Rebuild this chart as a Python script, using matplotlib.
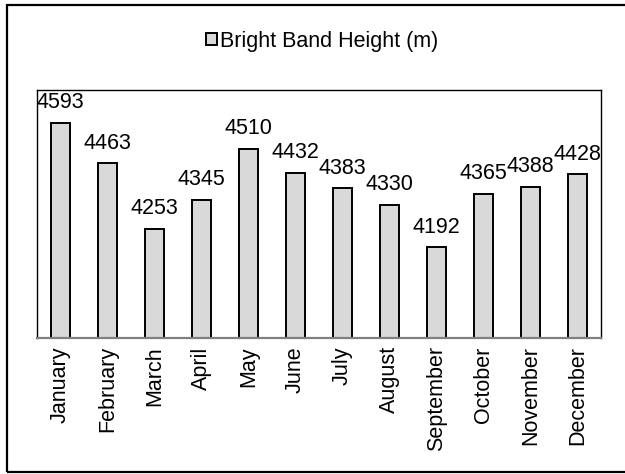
import matplotlib
matplotlib.use("Agg")
import matplotlib.pyplot as plt
from matplotlib.patches import Rectangle

months = ["January", "February", "March", "April", "May", "June", "July",
          "August", "September", "October", "November", "December"]
heights = [4593, 4463, 4253, 4345, 4510, 4432, 4383, 4330, 4192, 4365, 4388, 4428]
series_name = "Bright Band Height (m)"

plt.rcParams["font.family"] = ["Liberation Sans", "DejaVu Sans"]

W, H = 625, 474
fig = plt.figure(figsize=(W / 100, H / 100), dpi=100)
fig.patch.set_facecolor("white")

ax = fig.add_axes([37 / W, 1 - 338 / H, 564 / W, 248 / H])
x = list(range(len(months)))
bars = ax.bar(x, heights, width=0.41, color="#d9d9d9", edgecolor="black",
              linewidth=1.4, label=series_name, zorder=2)

ax.set_xlim(-0.5, len(months) - 0.5)
ax.set_ylim(3900, 4700)
ax.set_yticks([])
ax.set_xticks(x)
ax.set_xticklabels(months, rotation=90, fontsize=15.5)
ax.tick_params(axis="x", length=0, pad=6)

for side in ("top", "left", "right"):
    ax.spines[side].set_color("black")
    ax.spines[side].set_linewidth(1.0)
ax.spines["bottom"].set_color("#808080")
ax.spines["bottom"].set_linewidth(1.6)
ax.spines["bottom"].set_zorder(3)

for xi, v in zip(x, heights):
    ax.annotate(str(v), (xi, v), xytext=(0, 7), textcoords="offset points",
                ha="center", va="bottom", fontsize=15.5, clip_on=False)

fig.legend(handles=[bars], labels=[series_name], loc="center",
           bbox_to_anchor=(322 / W, 1 - 41 / H), frameon=False, fontsize=15.5,
           handlelength=0.5, handleheight=0.5, handletextpad=0.15)

# outer chart frame
fig.add_artist(Rectangle((7 / W, 1 - 472 / H), (W + 10) / W, (472 - 5) / H,
                         transform=fig.transFigure, fill=False,
                         edgecolor="black", linewidth=1.6))

fig.savefig("out.png", dpi=100, facecolor="white")
